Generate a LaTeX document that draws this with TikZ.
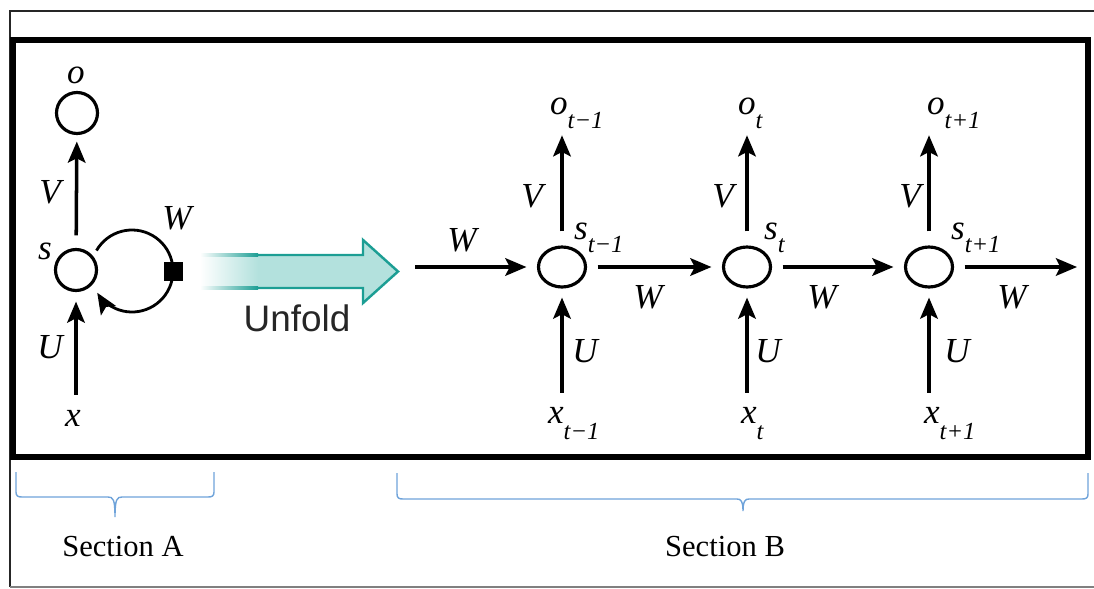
\documentclass[tikz,border=0pt]{standalone}
\usepackage{amsmath,amssymb}
\usepackage{fontspec}
\setmainfont{Liberation Serif}
\newfontfamily\unfoldsans{Liberation Sans}
\usetikzlibrary{arrows.meta,shapes.geometric}

\definecolor{unfoldfill}{HTML}{B3E1DD}
\definecolor{unfoldline}{HTML}{1C9E94}
\definecolor{bracecol}{HTML}{6FA3DA}

\newcommand{\lowsub}[3]{\textit{#1}\raisebox{#3}{\fontsize{14}{16}\selectfont\textit{#2}}}

\begin{document}
\begin{tikzpicture}[x=0.02cm,y=-0.02cm,>={Stealth[length=12pt,width=10pt,inset=2.5pt]},
  cell/.style={circle,draw,line width=1.8pt,minimum size=0.82cm,inner sep=0pt},
  unit/.style={ellipse,draw,line width=1.8pt,minimum width=0.94cm,minimum height=0.8cm,inner sep=0pt},
  conn/.style={->,line width=2pt},
  lbl/.style={font=\fontsize{20}{24}\selectfont\itshape,inner sep=1pt},
  sec/.style={font=\fontsize{17.4}{20}\selectfont,inner sep=0pt},
  brace/.style={draw=bracecol,line width=0.8pt}]

  \useasboundingbox (0,0) rectangle (1094,588);
  \draw[line width=1.1pt,black!85] (1094,11) -- (10,11) -- (10,587);
  \draw[line width=1pt,black!50] (10,587) -- (1094,587);
  \draw[line width=3pt] (13,40) rectangle (1088,457);

  % folded network
  \node[cell] (o0) at (77,113) {};
  \node[cell] (s0) at (76,270) {};
  \node[lbl] (olbl0) at (76,75) {o};
  \node[lbl] (slbl0) at (45,251) {s};
  \node[lbl] (x0) at (73,418) {x};
  \node[lbl] (v0) at (50,192) {V};
  \node[lbl] (u0) at (50,347) {U};
  \node[lbl] (w0) at (177,218) {W};
  \draw[conn,shorten <=0.25cm,shorten >=0.13cm] (s0) -- (o0);
  \draw[conn,shorten <=0.26cm,shorten >=0.19cm] (x0.north -| s0) -- (s0);
  \coordinate (loopc) at (132,271);
  \draw[conn,line width=1.6pt] (loopc) ++(-150:41) arc[start angle=-150,end angle=148,radius=41];
  \node[fill,minimum size=0.38cm,inner sep=0pt] (gate) at (173,271) {};

  % unfold arrow
  \fill[unfoldfill] (203,255) -- (363,255) -- (363,240) -- (398,271.5) -- (363,303) -- (363,288) -- (203,288) -- cycle;
  \draw[unfoldline,line width=1.4pt] (203,255) -- (363,255) -- (363,240) -- (398,271.5) -- (363,303) -- (363,288) -- (203,288) -- cycle;
  \shade[left color=white,right color=unfoldfill] (200,256.3) rectangle (258,286.7);
  \shade[left color=white,right color=unfoldline] (200,253.8) rectangle (258,256.3);
  \shade[left color=white,right color=unfoldline] (200,286.7) rectangle (258,289.2);
  \node[font=\unfoldsans\fontsize{21}{24}\selectfont,text=black!85] (unfold) at (297,318) {Unfold};

  % unrolled network
  \node[unit] (s1) at (562,267) {};
  \node[unit] (s2) at (747,267) {};
  \node[unit] (s3) at (929,267) {};
  \node[lbl,anchor=base west] (o1) at (548,114) {\lowsub{o}{t−1}{-8.5pt}};
  \node[lbl,anchor=base west] (o2) at (736,114) {\lowsub{o}{t}{-8.5pt}};
  \node[lbl,anchor=base west] (o3) at (925,114) {\lowsub{o}{t+1}{-8.5pt}};
  \node[lbl,anchor=base west] (sl1) at (572,239) {\lowsub{s}{t−1}{-7.4pt}};
  \node[lbl,anchor=base west] (sl2) at (762,239) {\lowsub{s}{t}{-7.4pt}};
  \node[lbl,anchor=base west] (sl3) at (949,239) {\lowsub{s}{t+1}{-7.4pt}};
  \node[lbl,anchor=base west] (x1) at (546,423) {\lowsub{x}{t−1}{-9.6pt}};
  \node[lbl,anchor=base west] (x2) at (739,423) {\lowsub{x}{t}{-9.6pt}};
  \node[lbl,anchor=base west] (x3) at (922,423) {\lowsub{x}{t+1}{-9.6pt}};
  \node[lbl] (v1) at (532,196) {V};
  \node[lbl] (v2) at (723,196) {V};
  \node[lbl] (v3) at (910,196) {V};
  \node[lbl] (u1) at (585,351) {U};
  \node[lbl] (u2) at (768,351) {U};
  \node[lbl] (u3) at (957,351) {U};
  \node[lbl] (w1) at (462,240) {W};
  \node[lbl] (w2) at (648,297) {W};
  \node[lbl] (w3) at (822,297) {W};
  \node[lbl] (w4) at (1012,297) {W};

  \coordinate (win) at (415,267);
  \coordinate (wout) at (1077,267);
  \draw[conn,shorten >=0.21cm] (win) -- (s1);
  \draw[conn,shorten <=0.21cm,shorten >=0.21cm] (s1) -- (s2);
  \draw[conn,shorten <=0.21cm,shorten >=0.21cm] (s2) -- (s3);
  \draw[conn,shorten <=0.21cm] (s3) -- (wout);
  \draw[conn,shorten <=0.28cm,shorten >=0.08cm] (s1) -- (s1 |- o1.south);
  \draw[conn,shorten <=0.28cm,shorten >=0.08cm] (s2) -- (s2 |- o2.south);
  \draw[conn,shorten <=0.28cm,shorten >=0.08cm] (s3) -- (s3 |- o3.south);
  \draw[conn,shorten <=0.24cm,shorten >=0.18cm] (x1.north -| s1) -- (s1);
  \draw[conn,shorten <=0.24cm,shorten >=0.18cm] (x2.north -| s2) -- (s2);
  \draw[conn,shorten <=0.24cm,shorten >=0.18cm] (x3.north -| s3) -- (s3);

  % braces
  \draw[brace] (16,472) -- (16,492) .. controls (16,496) and (18,497) .. (22,497) -- (108,497)
    .. controls (113,497) and (115,499) .. (115,517) .. controls (115,499) and (117,497) .. (122,497)
    -- (208,497) .. controls (212,497) and (214,496) .. (214,492) -- (214,472);
  \draw[brace] (397,473) -- (397,494) .. controls (397,498) and (399,499) .. (403,499) -- (737,499)
    .. controls (741,499) and (743,501) .. (743,511) .. controls (743,501) and (745,499) .. (749,499)
    -- (1082,499) .. controls (1086,499) and (1088,498) .. (1088,494) -- (1088,473);
  \node[sec] (secA) at (123,547) {Section A};
  \node[sec] (secB) at (725,547) {Section B};
\end{tikzpicture}
\end{document}
